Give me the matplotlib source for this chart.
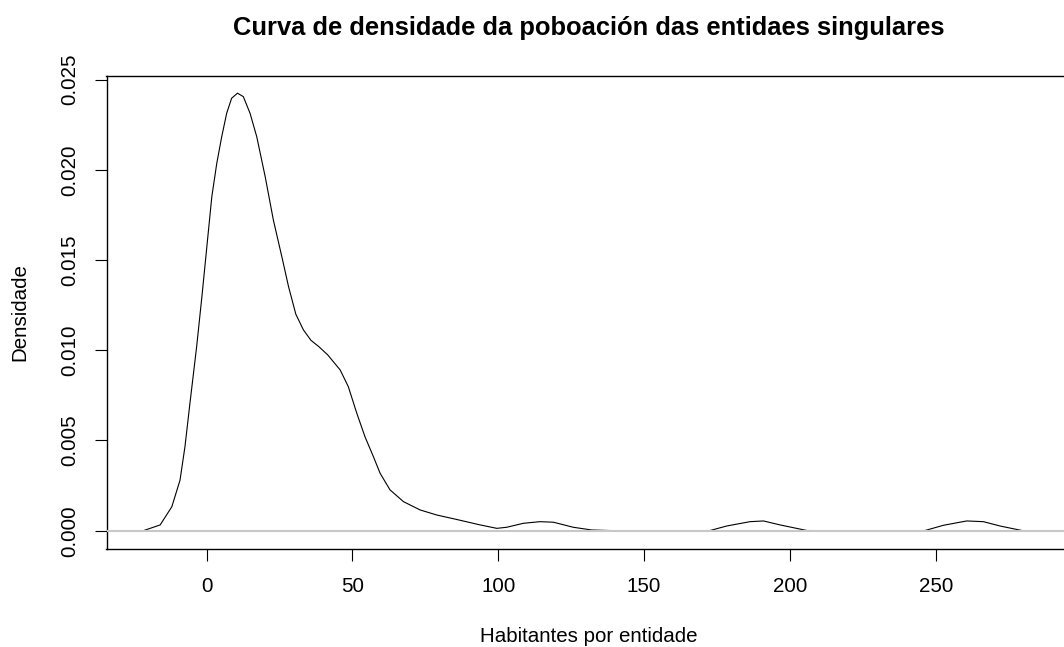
import matplotlib
matplotlib.use("Agg")
import matplotlib.pyplot as plt

# density curve (habitantes, densidade)
hab = [-21.7, -15.9, -11.9, -9.1, -7.4, -5.7, -3.4, -1.6, 0.1, 1.8, 3.5, 5.2,
       6.9, 8.6, 10.6, 12.6, 14.9, 17.2, 20.1, 22.9, 25.8, 28.1, 30.6, 33.2,
       35.8, 38.5, 41.5, 45.8, 48.6, 51.5, 54.3, 57.2, 59.5, 62.9, 67.5, 73.2,
       78.9, 85.8, 93.5, 99.5, 102.9, 108.6, 114.3, 118.9, 125.7, 132.0,
       140.0, 165.0, 172.6, 178.3, 186.3, 190.9, 196.6, 205.8,
       215.0, 240.0, 246.3, 252.6, 260.6, 266.3, 272.0, 279.5]
dens = [0.0, 0.00032, 0.00133, 0.0028, 0.00466, 0.00706, 0.0102, 0.01297,
        0.01574, 0.01851, 0.02036, 0.02184, 0.02314, 0.02397, 0.02425,
        0.02406, 0.02314, 0.02184, 0.01962, 0.01722, 0.01519, 0.01353,
        0.01200, 0.01113, 0.01055, 0.01020, 0.00975, 0.00891, 0.00798,
        0.00651, 0.00521, 0.0041, 0.00318, 0.00226, 0.00161, 0.00115,
        0.00087, 0.00062, 0.00033, 0.00013, 0.00019, 0.00041, 0.0005,
        0.00047, 0.00019, 0.00004,
        0.0, 0.0, 0.00001, 0.00026, 0.0005, 0.00054, 0.00032, 0.00001,
        0.0, 0.0, 0.00001, 0.0003, 0.00054, 0.0005, 0.00026, 0.00001]

xticks = [0, 50, 100, 150, 200, 250]
yticks = [0.000, 0.005, 0.010, 0.015, 0.020, 0.025]

plt.rcParams['font.family'] = ['Liberation Sans', 'DejaVu Sans']

W, H = 1064, 647
fig = plt.figure(figsize=(W / 100, H / 100), dpi=100)
left, right, top, bottom = 106.5, 1071.5, 75.5, 548.5
ax = fig.add_axes([left / W, 1 - bottom / H, (right - left) / W, (bottom - top) / H])

ax.plot(hab, dens, color='black', lw=0.8, zorder=2)
# zero line drawn over the curve, as R does
ax.axhline(0, color='#C8C8C8', lw=1.5, zorder=3)

ax.set_xlim(-34.3, 296.5)
ax.set_ylim(-0.000987, 0.02523)

ax.set_xticks(xticks)
ax.set_xticklabels([str(t) for t in xticks])
ax.set_yticks(yticks)
ax.set_yticklabels([f'{t:.3f}' for t in yticks], rotation=90, va='center')
ax.tick_params(axis='both', labelsize=14.8, length=8.5, width=0.8, direction='out')
ax.tick_params(axis='x', pad=12)
ax.tick_params(axis='y', pad=11)

for s in ax.spines.values():
    s.set_linewidth(1.0)
ax.spines['right'].set_visible(False)

ax.set_xlabel('Habitantes por entidade', fontsize=14.8, va='center')
ax.xaxis.set_label_coords(0.5, (bottom - 637) / (bottom - top))
ax.set_ylabel('Densidade', fontsize=14.8, va='center')
ax.yaxis.set_label_coords((20 - left) / (right - left), 0.5)

ax.text(0.5, (bottom - 28) / (bottom - top),
        'Curva de densidade da poboación das entidaes singulares',
        transform=ax.transAxes, ha='center', va='center',
        fontsize=18.4, fontweight='bold')

fig.savefig('out.png', dpi=100)
